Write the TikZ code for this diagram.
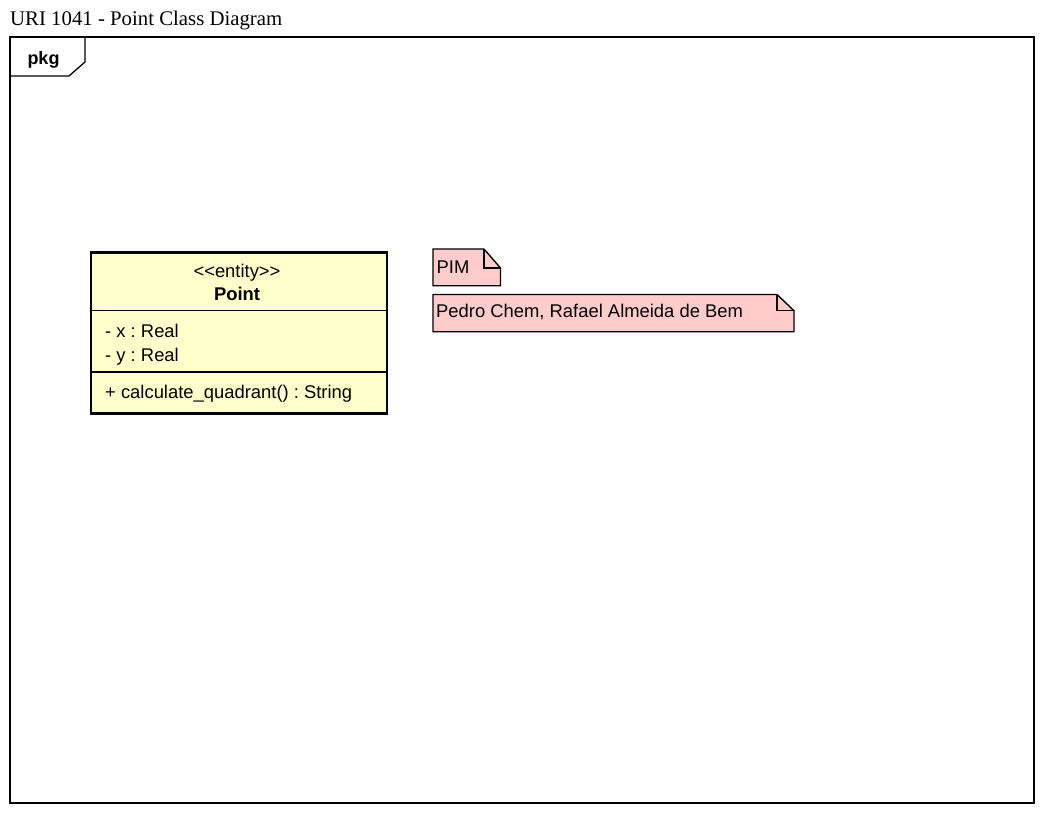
\documentclass[tikz,border=0pt]{standalone}
\usepackage{fontspec}
\setmainfont{Liberation Serif}
\setsansfont{Liberation Sans}
\frenchspacing
\begin{document}
\begin{tikzpicture}[x=1pt,y=-1pt,
  txt/.style={font=\sffamily\fontsize{18.4}{22}\selectfont, inner sep=0pt, anchor=base west},
  notebox/.style={draw=black, line width=1.4pt, fill=notefill, line join=miter},
  sep/.style={line width=1.4pt}]
\definecolor{notefill}{HTML}{FFCCCC}
\definecolor{classfill}{HTML}{FFFFCC}
\useasboundingbox (0,0) rectangle (1047,816);
\fill[white] (0,0) rectangle (1047,816);
% title
\node[inner sep=0pt, anchor=base west, font=\rmfamily\fontsize{20.8}{24}\selectfont] (title) at (10,26) {URI 1041 - Point Class Diagram};
% frame
\draw[line width=1.3pt] (10,37) rectangle (1034,803);
\draw[line width=1.3pt] (85,37) -- (85,62) -- (69,76) -- (10,76);
\node[inner sep=0pt, anchor=base west, font=\sffamily\bfseries\fontsize{18}{22}\selectfont] (pkg) at (27.3,64) {pkg};
% class
\node[draw=black, line width=2.8pt, fill=classfill, minimum width=296pt, minimum height=160.5pt, inner sep=0pt, anchor=north west] (cls) at (89.5,251.3) {};
\draw[sep] (cls.west |- 0,310.7) coordinate (s1) -- (cls.east |- 0,310.7) coordinate (s1e);
\draw[sep] (cls.west |- 0,372) coordinate (s2) -- (cls.east |- 0,372) coordinate (s2e);
\node[txt, anchor=base] (stereo) at (237,277) {{<}{<}entity{>}{>}};
\node[txt, anchor=base, font=\sffamily\bfseries\fontsize{18.4}{22}\selectfont] (cname) at (237,300.5) {Point};
\node[txt] (ax) at (105,337.3) {- x : Real};
\node[txt] (ay) at (105,361.5) {- y : Real};
\node[txt] (op) at (105,398.3) {+ calculate\_quadrant() : String};
% note 1
\draw[notebox] (433,249) -- (484,249) -- (500.5,268) -- (500.5,285.7) -- (433,285.7) -- cycle;
\draw[line width=1.4pt] (484,249) -- (484,268) -- (500.5,268);
\node[txt] (n1) at (436.5,273.3) {PIM};
% note 2
\draw[notebox] (433,294.5) -- (777,294.5) -- (794,310.7) -- (794,331.7) -- (433,331.7) -- cycle;
\draw[line width=1.4pt] (777,294.5) -- (777,310.7) -- (794,310.7);
\node[txt] (n2) at (436,317.3) {Pedro Chem, Rafael Almeida de Bem};
\end{tikzpicture}
\end{document}
